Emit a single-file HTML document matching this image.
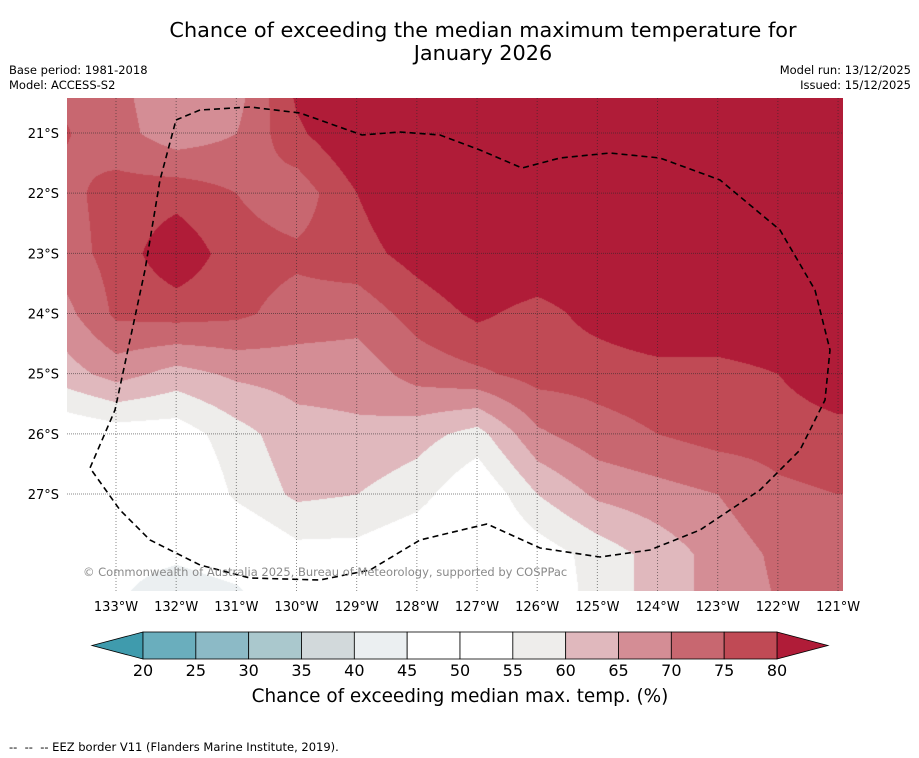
<!DOCTYPE html>
<html><head><meta charset="utf-8"><style>
body{margin:0;background:#fff;width:919px;height:758px;overflow:hidden;position:relative;font-family:"DejaVu Sans","Liberation Sans",sans-serif;}
.t{position:absolute;white-space:nowrap;}
</style></head><body>
<div class="t" style="left:0;width:966px;top:19px;text-align:center;font-size:20.8px;line-height:23px;">Chance of exceeding the median maximum temperature for<br>January 2026</div>
<div class="t" style="left:9px;top:63px;font-size:11.5px;line-height:15px;">Base period: 1981-2018<br>Model: ACCESS-S2</div>
<div class="t" style="right:8px;top:63px;font-size:11.5px;line-height:15px;text-align:right;">Model run: 13/12/2025<br>Issued: 15/12/2025</div>
<canvas id="map" width="776" height="493" style="position:absolute;left:67px;top:98px;"></canvas>
<svg id="ov" width="919" height="758" style="position:absolute;left:0;top:0;"></svg>
<div class="t" style="left:83px;top:565px;font-size:11.5px;color:#8a8a8a;">© Commonwealth of Australia 2025, Bureau of Meteorology, supported by COSPPac</div>
<div class="t" style="left:0;width:920px;top:686px;text-align:center;font-size:18.4px;">Chance of exceeding median max. temp. (%)</div>
<div class="t" style="left:9px;top:740px;font-size:11.5px;">-- &nbsp;-- &nbsp;-- EEZ border V11 (Flanders Marine Institute, 2019).</div>
<script>
const lonsW=[134,133,132,131,130,129,128,127,126,125,124,123,122,121];
const latsS=[20,21,22,23,24,25,26,27,28,29];
const row20=[74,71,66,67,82,86,86,86,86,86,86,86,86,86];
const row21=[76,72,67,70,79,85,85,85,85,85,85,85,85,85];
const row22=[73,77,78,75,72,80,85,85,85,85,85,85,85,85];
const row23=[72,77,84,77,76,78,82,85,85,85,85,85,85,85];
const row24=[67,76,77,76,73,72,77,81,78,82,85,85,85,85];
const row25=[62,67,63,66,67,67,72,74,77,77,78,78,80,84];
const row26=[50,52,52,58,63,64,62,58,69,73,75,77,77,78];
const row27=[48,48,48,56,61,60,57,50,60,66,68,70,74,75];
const row28=[48,47,46,48,53,53,50,48,52,57,62,67,71,72];
const row29=[47,45,40,42,48,52,50,46,50,57,62,67,70,72];
const grid=[row20,row21,row22,row23,row24,row25,row26,row27,row28,row29];
const levels=[20,25,30,35,40,45,50,55,60,65,70,75,80];
const colors=["#3f9bad","#6aaebd","#8cbac6","#aac8cd","#d2d9db","#ebeff1","#ffffff","#ffffff","#eeedeb","#e0b8bd","#d48d95","#c86770","#c04a55","#b01c38"];
const lonTicks=[133,132,131,130,129,128,127,126,125,124,123,122,121];
const latTicks=[21,22,23,24,25,26,27];
const PX=60.17;
const xOf=lw=>116+(133-lw)*PX, yOf=ls=>133+(ls-21)*PX;
function hex(c){return [parseInt(c.substr(1,2),16),parseInt(c.substr(3,2),16),parseInt(c.substr(5,2),16)];}
const rgb=colors.map(hex);
function val(lw,ls){
  let fi=lonsW[0]-lw, fj=ls-latsS[0];
  fi=Math.max(0,Math.min(lonsW.length-1.001,fi)); fj=Math.max(0,Math.min(latsS.length-1.001,fj));
  const i=Math.floor(fi),j=Math.floor(fj),a=fi-i,b=fj-j;
  return grid[j][i]*(1-a)*(1-b)+grid[j][i+1]*a*(1-b)+grid[j+1][i]*(1-a)*b+grid[j+1][i+1]*a*b;
}
const cv=document.getElementById('map'),ctx=cv.getContext('2d');
const img=ctx.createImageData(776,493);
for(let py=0;py<493;py++){for(let px=0;px<776;px++){
  const X=67+px,Y=98+py;
  const v=val(133-(X-116)/PX,21+(Y-133)/PX);
  let k=0;while(k<levels.length&&v>=levels[k])k++;
  const c=rgb[k],o=(py*776+px)*4;
  img.data[o]=c[0];img.data[o+1]=c[1];img.data[o+2]=c[2];img.data[o+3]=255;
}}
ctx.putImageData(img,0,0);
const NS='http://www.w3.org/2000/svg',svg=document.getElementById('ov');
function mk(t,at,p){const e=document.createElementNS(NS,t);for(const k in at)e.setAttribute(k,at[k]);(p||svg).appendChild(e);return e;}
const FF='DejaVu Sans, Liberation Sans, sans-serif';
lonTicks.forEach(l=>{const x=xOf(l);
  const g=mk('line',{x1:x,y1:98,x2:x,y2:591,stroke:'rgba(40,40,40,0.55)','stroke-width':1,'stroke-dasharray':'1,2'});
  
  
  const t=mk('text',{x:x,y:611,'text-anchor':'middle','font-size':13,'font-family':FF});
  t.textContent=l+'°W';
  
  
});
latTicks.forEach(l=>{const y=yOf(l);
  const g=mk('line',{x1:67,y1:y,x2:843,y2:y,stroke:'rgba(40,40,40,0.55)','stroke-width':1,'stroke-dasharray':'1,1'});
  
  
  const t=mk('text',{x:59,y:y+5,'text-anchor':'end','font-size':13,'font-family':FF});
  t.textContent=l+'°S';
  
  
});
const eez=mk('path',{d:'M176,120 L200,110 L250,107 L300,113 L362,135 L400,132 L440,135 L480,150 L522,168 L560,158 L610,153 L660,158 L720,180 L780,230 L815,290 L830,350 L825,400 L800,450 L760,490 L700,530 L650,550 L600,557 L540,548 L487,524 L470,528 L420,540 L370,570 L320,580 L250,578 L200,565 L150,540 L120,510 L90,468 L115,410 L130,340 L145,270 L160,180 Z',fill:'none',stroke:'#000','stroke-width':1.6,'stroke-dasharray':'6,4'});


const cbL=143,cbR=777,cbT=632,cbB=659,seg=(cbR-cbL)/(levels.length-1);
const lt=mk('polygon',{points:`92,645.5 ${cbL},${cbT} ${cbL},${cbB}`,fill:colors[0],stroke:'#000','stroke-width':0.8});


const rt=mk('polygon',{points:`828,645.5 ${cbR},${cbT} ${cbR},${cbB}`,fill:colors[colors.length-1],stroke:'#000','stroke-width':0.8});


for(let i=0;i<levels.length-1;i++){
  const r=mk('rect',{x:cbL+i*seg,y:cbT,width:seg,height:cbB-cbT,fill:colors[i+1],stroke:'#000','stroke-width':0.8});
  
  
}
levels.forEach((l,i)=>{
  const t=mk('text',{x:cbL+i*seg,y:676,'text-anchor':'middle','font-size':16,'font-family':FF});
  t.textContent=l;
  
  
});
</script>
</body></html>
